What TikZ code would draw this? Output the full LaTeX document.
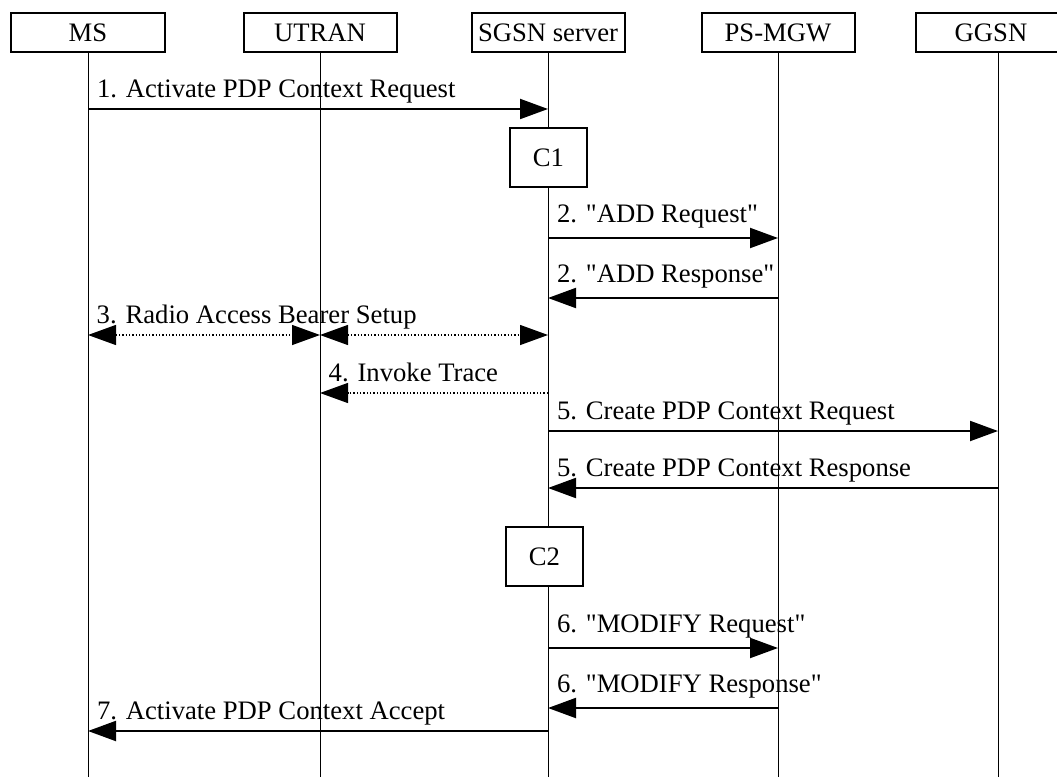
\documentclass[tikz,border=0pt]{standalone}
\usepackage{fontspec}
\setmainfont{Liberation Serif}
\usetikzlibrary{arrows.meta,positioning}
\tikzset{>={Triangle[length=12.6pt,width=9pt]},
  entity/.style={draw,line width=0.9pt,minimum width=68.85pt,
    minimum height=17.55pt,inner sep=0pt,fill=white},
  cbox/.style={draw,line width=0.9pt,minimum width=34.65pt,
    minimum height=26.55pt,inner sep=0pt,fill=white},
  life/.style={line width=0.45pt},
  msg/.style={->,line width=0.9pt},
  dmsg/.style={line width=0.6pt,dash pattern=on 0.6pt off 0.9pt},
  lbl/.style={anchor=base west,inner sep=0pt,xshift=3.6pt,yshift=5pt},
  hlbl/.style={lbl,yshift=2pt}}

\begin{document}
\begin{tikzpicture}[x=0.45pt,y=-0.45pt,font=\fontsize{12}{14}\selectfont]
    \useasboundingbox (0,0) rectangle (1057,777);

    % entities
    \node[entity] (ms) at (88,32.5) {MS};
    \node[entity] (utran) at (320,32.5) {UTRAN};
    \node[entity] (sgsn) at (548,32.5) {SGSN server};
    \node[entity] (psmgw) at (778,32.5) {PS-MGW};
    \node[entity,minimum width=67.5pt] (ggsn) at (991,32.5) {GGSN};

    \coordinate (ms-end) at (88,777);
    \coordinate (utran-end) at (320,777);
    \coordinate (sgsn-end) at (548,777);
    \coordinate (psmgw-end) at (778,777);
    \coordinate (ggsn-end) at (998,777);

    % message rows
    \foreach \r/\y in {1/109,2/238,3/298,4/335,5/393,6/431,7/488,8/648,9/708,10/731} {
      \coordinate (ms\r) at (88,\y);
      \coordinate (utran\r) at (320,\y);
      \coordinate (sgsn\r) at (548,\y);
      \coordinate (psmgw\r) at (778,\y);
      \coordinate (ggsn\r) at (998,\y);
    }

    % lifelines
    \draw[life] (ms) -- (ms-end);
    \draw[life] (utran) -- (utran-end);
    \draw[life] (sgsn) -- (sgsn-end);
    \draw[life] (psmgw) -- (psmgw-end);
    \draw[life] (ggsn.south -| ggsn-end) -- (ggsn-end);

    \node[cbox] (c1) at (548.5,157.5) {C1};
    \node[cbox] (c2) at (544.5,556.5) {C2};

    \path[msg] (ms1) edge node[lbl,pos=0]{1. Activate PDP Context Request} (sgsn1);
    \path[msg] (sgsn2) edge node[hlbl,pos=0]{2. \textquotedbl ADD Request\textquotedbl} (psmgw2);
    \path[msg] (psmgw3) edge node[hlbl,pos=1]{2. \textquotedbl ADD Response\textquotedbl} (sgsn3);
    \path[dmsg,<->] (ms4) edge node[lbl,pos=0]{3. Radio Access Bearer Setup} (utran4);
    \path[dmsg,<->] (utran4) edge (sgsn4);
    \path[dmsg,->] (sgsn5) edge node[lbl,pos=1]{4. Invoke Trace} (utran5);
    \path[msg] (sgsn6) edge node[lbl,pos=0]{5. Create PDP Context Request} (ggsn6);
    \path[msg] (ggsn7) edge node[lbl,pos=1]{5. Create PDP Context Response} (sgsn7);
    \path[msg] (sgsn8) edge node[hlbl,pos=0]{6. \textquotedbl MODIFY Request\textquotedbl} (psmgw8);
    \path[msg] (psmgw9) edge node[hlbl,pos=1]{6. \textquotedbl MODIFY Response\textquotedbl} (sgsn9);
    \path[msg] (sgsn10) edge node[lbl,pos=1]{7. Activate PDP Context Accept} (ms10);
\end{tikzpicture}
\end{document}
